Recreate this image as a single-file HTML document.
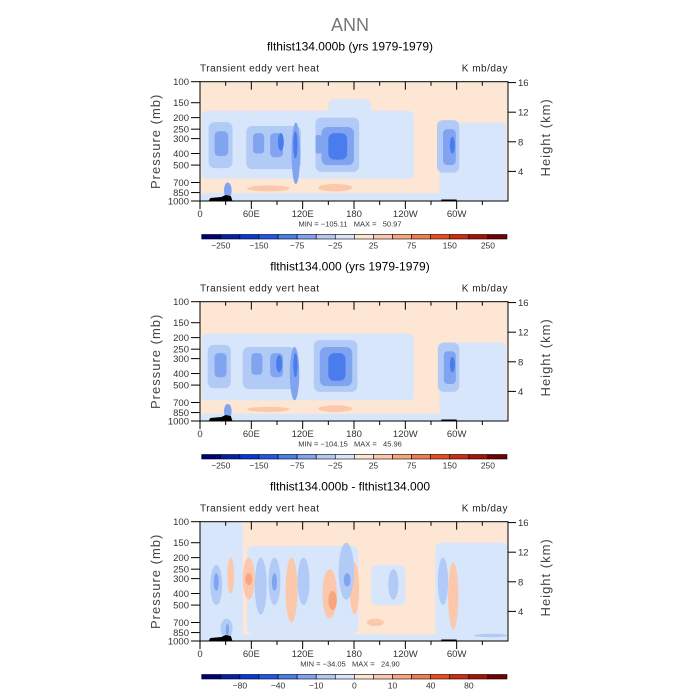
<!DOCTYPE html>
<html><head><meta charset="utf-8"><style>
html,body{margin:0;padding:0;background:#fff}
svg{display:block}
text{font-family:"Liberation Sans",sans-serif;white-space:pre}
</style></head><body>
<svg id="root" width="700" height="700" viewBox="0 0 700 700" xmlns="http://www.w3.org/2000/svg">
<text x="350" y="31" text-anchor="middle" font-size="18" fill="#777" font-weight="300">ANN</text>
</svg>
<script>
const colors=["#00007f","#0020b0","#0838d8","#1c58ee","#4a7cee","#80a4f0","#b2cbf6","#d7e6fb","#fde6d3","#fcc8ab","#f9a57f","#f47b4e","#ec4b20","#d22a0e","#a81307","#760000"];
const pLevels=[100,150,200,250,300,400,500,700,850,1000];
const hLevels=[4,8,12,16];
const lonLabels=["0","60E","120E","180","120W","60W"];
const titles=["flthist134.000b (yrs 1979-1979)","flthist134.000 (yrs 1979-1979)","flthist134.000b - flthist134.000"];
const minmax=["MIN = \u2212105.11   MAX =   50.97","MIN = \u2212104.15   MAX =   45.96","MIN = \u221234.05   MAX =   24.90"];
const cbLabels1=["\u2212250","\u2212150","\u221275","\u221225","25","75","150","250"];
const cbLabels3=["\u221280","\u221240","\u221210","0","10","40","80"];
// blobs: [kind, lon0, lon1, pTop, pBot, level]
const blobs1=[
["r",2,250,175,660,7],["r",150,200,140,200,7],["r",280,358,220,930,7],["r",2,255,650,820,8],
["e",55,105,740,830,9],["e",138,178,720,830,9],["r",0,360,860,1000,7],
["r",10,38,218,530,6],["r",54,118,235,540,6],["r",135,186,200,570,6],["r",277,303,210,580,6],
["r",17,33,260,420,5],["r",62,75,270,400,5],["r",82,97,270,430,5],["e",107,117,220,720,5],["r",142,180,240,500,5],["r",284,299,250,500,5],["r",135,142,280,400,5],
["e",91,98,270,380,4],["e",109,114,260,440,4],["r",150,172,270,450,4],["e",292,298,290,400,4],
["e",28,37,700,950,5]];
const blobs2=[
["r",2,250,185,680,7],["r",280,358,220,930,7],["r",2,255,670,830,8],
["e",55,105,760,840,9],["e",138,178,740,840,9],["r",0,360,870,1000,7],
["r",9,36,230,530,6],["r",50,112,240,540,6],["r",133,184,210,570,6],["r",278,303,220,570,6],
["r",17,31,270,430,5],["r",60,73,270,410,5],["r",82,97,270,430,5],["e",105,116,240,670,5],["r",140,178,240,510,5],["r",285,299,260,490,5],
["e",89,96,280,390,4],["e",109,114,270,430,4],["r",150,170,270,460,4],["e",292,298,290,390,4],
["e",28,37,720,950,5]];
const blobs3=[
["r",0,50,100,1000,7],["r",55,185,160,870,7],["r",200,240,230,500,7],["r",275,360,150,900,7],["r",0,360,880,1000,7],
["e",50,64,200,450,9],["e",53,61,270,340,10],["e",100,114,200,700,9],["e",143,160,250,650,9],["e",150,160,380,550,10],["e",175,186,220,600,9],["e",290,302,220,800,9],["e",32,40,200,400,9],["e",195,215,650,750,9],
["e",12,26,230,500,6],["e",16,22,270,380,5],["e",64,78,200,600,6],["e",80,94,200,500,6],["e",84,90,270,380,5],["e",114,128,200,500,6],["e",162,180,150,450,6],["e",168,176,270,350,5],["e",220,232,250,450,6],["e",278,290,200,500,6],["e",24,38,650,950,6],["e",30,34,720,900,5],["e",320,360,870,930,6]];
const allBlobs=[blobs1,blobs2,blobs3];
const NS="http://www.w3.org/2000/svg";
const svg=document.getElementById('root');
const X0=200,X1=508,PH=119.3;
function mk(tag,attrs,parent){const e=document.createElementNS(NS,tag);for(const k in attrs)e.setAttribute(k,attrs[k]);(parent||svg).appendChild(e);return e;}
function xs(lon){return X0+lon/360*(X1-X0);}
for(let pi=0;pi<3;pi++){
  const top=81.7+pi*220;
  const ys=p=>top+Math.log10(p/100)*PH;
  const g=mk('g',{});
  
  
  const t=mk('text',{x:350,y:top-31,'text-anchor':'middle','font-size':12,fill:'#000'},g);t.textContent=titles[pi];
  
  const l=mk('text',{x:X0,y:top-10,'font-size':10,fill:'#222','letter-spacing':'0.5'},g);l.textContent="Transient eddy vert heat";
  
  const u=mk('text',{x:X1,y:top-10,'text-anchor':'end','font-size':10,fill:'#222','letter-spacing':'0.5'},g);u.textContent="K mb/day";
  
  const cp=mk('clipPath',{id:'cp'+pi},g);mk('rect',{x:X0,y:top,width:X1-X0,height:PH},cp);
  const plot=mk('g',{'clip-path':'url(#cp'+pi+')'},g);
  
  mk('rect',{x:X0,y:top,width:X1-X0,height:PH,fill:colors[8]},plot);
  for(const b of allBlobs[pi]){
    const [k,l0,l1,pt,pb,lev]=b;
    const xa=xs(l0),xb=xs(l1),ya=ys(pt),yb=ys(pb);
    let el;
    if(k==="r")el=mk('rect',{x:xa,y:ya,width:xb-xa,height:yb-ya,rx:Math.min(6,(xb-xa)/3),fill:colors[lev]},plot);
    else el=mk('ellipse',{cx:(xa+xb)/2,cy:(ya+yb)/2,rx:(xb-xa)/2,ry:(yb-ya)/2,fill:colors[lev]},plot);
    
    
  }
  const topo=mk('path',{d:`M${xs(10)},${top+PH} L${xs(12)},${top+PH-3} L${xs(25)},${top+PH-4} L${xs(30)},${top+PH-6} L${xs(36)},${top+PH-5} L${xs(38)},${top+PH} Z M${xs(282)},${top+PH} L${xs(282)},${top+PH-1.5} L${xs(300)},${top+PH-1.5} L${xs(300)},${top+PH} Z`,fill:'#000'},plot);
  
  const fr=mk('rect',{x:X0,y:top,width:X1-X0,height:PH,fill:'none',stroke:'#000','stroke-width':1},g);
  
  for(const p of pLevels){const y=ys(p);mk('line',{x1:X0-9,x2:X0,y1:y,y2:y,stroke:'#000'},g);
    const tx=mk('text',{x:X0-11,y:y+3.5,'text-anchor':'end','font-size':9.5,fill:'#333'},g);tx.textContent=p;
    }
  const yl=mk('text',{transform:`translate(160,${top+PH/2}) rotate(-90)`,'text-anchor':'middle','font-size':13,fill:'#444','letter-spacing':'1'},g);yl.textContent="Pressure (mb)";
  
  for(const h of hLevels){const p=1000*Math.exp(-h/7.0);const y=ys(p);mk('line',{x1:X1,x2:X1+8,y1:y,y2:y,stroke:'#000'},g);
    const tx=mk('text',{x:X1+10,y:y+3.5,'font-size':9.5,fill:'#333'},g);tx.textContent=h;
    }
  const hl=mk('text',{transform:`translate(550,${top+PH/2-4}) rotate(-90)`,'text-anchor':'middle','font-size':13,fill:'#444','letter-spacing':'1'},g);hl.textContent="Height (km)";
  
  for(let i=0;i<12;i++){const x=xs(i*30);const len=i%2?4:8;
    mk('line',{x1:x,x2:x,y1:top,y2:top+len,stroke:'#000'},g);mk('line',{x1:x,x2:x,y1:top+PH,y2:top+PH+len,stroke:'#000'},g);}
  lonLabels.forEach((s,i)=>{const tx=mk('text',{x:xs(i*60),y:top+PH+16,'text-anchor':'middle','font-size':9.5,fill:'#333'},g);tx.textContent=s;
    });
  const mm=mk('text',{x:350,y:top+PH+25.5,'text-anchor':'middle','font-size':7.5,fill:'#333'},g);mm.textContent=minmax[pi];
  
  const cb=mk('g',{},g);
  const cx0=201.7,cw=(507-201.7)/16,cy=top+PH+33.5;
  colors.forEach((c,i)=>{const r=mk('rect',{x:cx0+i*cw,y:cy,width:cw,height:4.5,fill:c,stroke:'#000','stroke-width':0.6},cb);
    });
  const labs=pi<2?cbLabels1:cbLabels3;const start=pi<2?1:2;
  labs.forEach((s,i)=>{const b=start+i*2;const tx=mk('text',{x:cx0+b*cw,y:cy+14,'text-anchor':'middle','font-size':8.5,fill:'#333'},cb);tx.textContent=s;
    });
}
</script>
</body></html>
